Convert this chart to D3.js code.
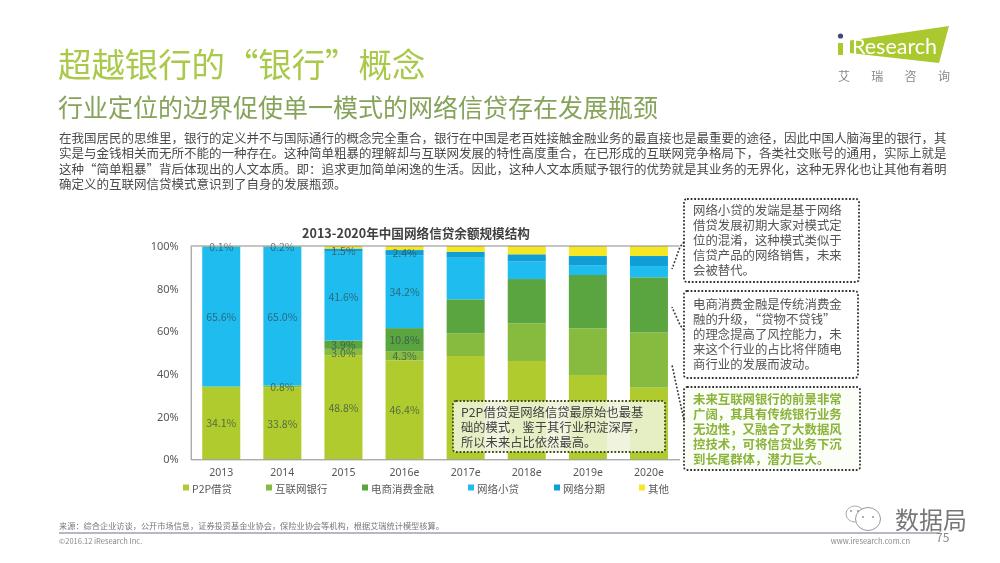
<!DOCTYPE html>
<html><head><meta charset="utf-8">
<script src="https://cdnjs.cloudflare.com/ajax/libs/d3/7.8.5/d3.min.js"></script>
<style>html,body{margin:0;background:#fff;overflow:hidden}svg{display:block;font-family:"Noto Sans CJK SC","Noto Sans",sans-serif;filter:blur(.3px)}</style>
</head><body><svg id="c" width="1000" height="563"></svg>
<script>
const categories=["2013","2014","2015","2016e","2017e","2018e","2019e","2020e"];
const seriesNames=["P2P借贷","互联网银行","电商消费金融","网络小贷","网络分期","其他"];
const p2p=[34.1,33.8,48.8,46.4,48.4,46.1,39.5,33.6];
const bank=[0,0.8,3.0,4.3,10.7,17.6,21.9,25.9];
const ecom=[0,0,3.9,10.8,15.9,20.8,25.0,25.8];
const micro=[65.6,65.0,41.6,34.2,19.5,8.2,4.4,5.3];
const install=[0.1,0.2,1.5,2.4,2.7,3.4,4.5,4.7];
const other=[0.2,0.2,1.2,1.9,2.8,3.9,4.7,4.7];
const labelledCategories=["2013","2014","2015","2016e"];
const yTicks=[0,20,40,60,80,100];
const colors=["#afcb2d","#86bb3f","#5aa53f","#1fbdef","#0f9fd6","#f5e726"];
const chartTitle="2013-2020年中国网络信贷余额规模结构";
const title="超越银行的“银行”概念";
const subtitle="行业定位的边界促使单一模式的网络信贷存在发展瓶颈";
const bodyLines=["在我国居民的思维里，银行的定义并不与国际通行的概念完全重合，银行在中国是老百姓接触金融业务的最直接也是最重要的途径，因此中国人脑海里的银行，其",
"实是与金钱相关而无所不能的一种存在。这种简单粗暴的理解却与互联网发展的特性高度重合，在已形成的互联网竞争格局下，各类社交账号的通用，实际上就是",
"这种“简单粗暴”背后体现出的人文本质。即：追求更加简单闲逸的生活。因此，这种人文本质赋予银行的优势就是其业务的无界化，这种无界化也让其他有着明",
"确定义的互联网信贷模式意识到了自身的发展瓶颈。"];
const note1=["网络小贷的发端是基于网络","借贷发展初期大家对模式定","位的混淆，这种模式类似于","信贷产品的网络销售，未来","会被替代。"];
const note2=["电商消费金融是传统消费金","融的升级，“贷物不贷钱”","的理念提高了风控能力，未","来这个行业的占比将伴随电","商行业的发展而波动。"];
const note3=["未来互联网银行的前景非常","广阔，其具有传统银行业务","无边性，又融合了大数据风","控技术，可将信贷业务下沉","到长尾群体，潜力巨大。"];
const note4=["P2P借贷是网络信贷最原始也最基","础的模式，鉴于其行业积淀深厚，","所以未来占比依然最高。"];
const logoChars=["艾","瑞","咨","询"];

const svg=d3.select("#c");
const txt=(x,y,s,size,fill,o={})=>svg.append("text").attr("x",x).attr("y",y).attr("font-size",size).attr("fill",fill)
  .attr("text-anchor",o.a||"start").attr("dominant-baseline","central").attr("font-weight",o.w||400).attr("letter-spacing",o.ls||null).text(s);
function multi(x,y,lines,lh,size,fill,w){
  const t=svg.append("text").attr("font-size",size).attr("fill",fill).attr("font-weight",w||400);
  lines.forEach((l,i)=>t.append("tspan").attr("x",x).attr("y",y+i*lh).attr("dominant-baseline","central").text(l));
}

txt(58,62,title,33.4,"#a9c94a");
txt(58,106,subtitle,25,"#86a35a");
multi(59,137,bodyLines,15.6,12.5,"#4a4a4a");

// chart
const x=d3.scaleBand().domain(categories).range([190.7,679.5]).paddingInner(0.378).paddingOuter(0.189);
const y=d3.scaleLinear().domain([0,100]).range([459.3,246]);
const rows=categories.map((c,i)=>({c,"P2P借贷":p2p[i],"互联网银行":bank[i],"电商消费金融":ecom[i],"网络小贷":micro[i],"网络分期":install[i],"其他":other[i]}));
const stacked=d3.stack().keys(seriesNames).offset(d3.stackOffsetExpand)(rows);
const g=svg.append("g");
stacked.forEach((s,si)=>{
  g.append("g").selectAll("rect").data(s).join("rect")
   .attr("x",d=>x(d.data.c)).attr("width",x.bandwidth())
   .attr("y",d=>y(d[1]*100)).attr("height",d=>y(d[0]*100)-y(d[1]*100)).attr("fill",colors[si]);
});
stacked.forEach((s,si)=>{
  if(seriesNames[si]==="其他")return;
  s.forEach(d=>{
    const v=d.data[seriesNames[si]];
    if(!labelledCategories.includes(d.data.c)||v<=0)return;
    svg.append("text").attr("x",x(d.data.c)+x.bandwidth()/2).attr("y",y((d[0]+d[1])*50))
      .attr("text-anchor","middle").attr("dominant-baseline","central").attr("font-size",10.5)
      .attr("fill","#33474f").attr("fill-opacity",.72).text(v.toFixed(1)+"%");
  });
});
const ya=d3.axisLeft(y).tickValues(yTicks).tickFormat(d=>d+"%").tickSize(0).tickPadding(12);
const yg=svg.append("g").attr("transform","translate(190.7,0)").call(ya);
yg.selectAll("text").attr("font-size",11).attr("fill","#595959").attr("font-family",'"Noto Sans","Noto Sans CJK SC",sans-serif');
yg.select(".domain").attr("stroke","#8a8a8a");
const xa=d3.axisBottom(x).tickSize(0).tickPadding(9);
const xg=svg.append("g").attr("transform","translate(0,459.3)").call(xa);
xg.selectAll("text").attr("font-size",10.5).attr("fill","#595959").attr("font-family",'"Noto Sans","Noto Sans CJK SC",sans-serif');
xg.select(".domain").attr("stroke","#8a8a8a");
svg.append("line").attr("x1",190.7).attr("x2",679.5).attr("y1",y(100)).attr("y2",y(100)).attr("stroke","#8a8a8a");
txt(416,232,chartTitle,12.6,"#404040",{a:"middle",w:700});
const legendX=d3.scaleOrdinal().domain(seriesNames).range([183,266,362,468,554,639]);
seriesNames.forEach((n,i)=>{
  svg.append("rect").attr("x",legendX(n)).attr("y",484.5).attr("width",6).attr("height",6).attr("fill",colors[i]);
  txt(legendX(n)+9,488,n,10.5,"#595959");
});

// notes
const dots="1.8 1.8";
function box(x0,y0,x1,y1,lines,fill,color,o={}){
  svg.append("rect").attr("x",x0).attr("y",y0).attr("width",x1-x0).attr("height",y1-y0).attr("rx",3)
    .attr("fill",fill).attr("fill-opacity",o.op||1).attr("stroke",o.stroke||"#333").attr("stroke-width",1.8).attr("stroke-dasharray",dots);
  multi(o.tx||x0+9,o.ty,lines,o.lh||15,o.fs||12.4,color,o.w);
}
box(684,199,859,282,note1,"#fff","#555",{ty:210});
box(684,291,858,378,note2,"#fff","#555",{ty:304});
box(684,387,860,470,note3,"#fbfdf7","#8ab43a",{ty:399,w:700});
box(453,401,665,452,note4,"#eef3da","#404040",{op:.88,ty:412,lh:15,tx:461,fs:12.3,stroke:"#3f4f15"});
[[[684,242],[680,247],[672,269]],[[684,330],[680,325],[672,307]],[[684,420],[680,402],[672,365]]].forEach(p=>{
  svg.append("path").attr("d",d3.line()(p)).attr("fill","none").attr("stroke","#333").attr("stroke-width",1.6).attr("stroke-dasharray",dots);
});

// logo
svg.append("path").attr("d","M850,40.5L949,26L939,63L850,53Z").attr("fill","#a9c92f");
svg.append("circle").attr("cx",840.5).attr("cy",36).attr("r",2.6).attr("fill","#3d4a80");
svg.append("rect").attr("x",838).attr("y",43).attr("width",5).attr("height",12).attr("fill","#a9c92f");
txt(852,46,"Research",21.5,"#fff").attr("font-family","Lato");
logoChars.forEach((c,i)=>txt(838+i*33.3,75,c,12,"#888"));

// footer
txt(59,525,"来源：综合企业访谈，公开市场信息，证券投资基金业协会，保险业协会等机构，根据艾瑞统计模型核算。",8.2,"#777");
svg.append("line").attr("x1",59).attr("x2",940).attr("y1",533).attr("y2",533).attr("stroke","#77718a").attr("stroke-width",1.2);
txt(59,540,"©2016.12 iResearch Inc.",7.5,"#888");
txt(910,540,"www.iresearch.com.cn",7.5,"#888",{a:"end"});
txt(936,536,"75",12,"#888");
// watermark
svg.append("ellipse").attr("cx",855).attr("cy",514).attr("rx",9).attr("ry",8).attr("fill","#fff").attr("stroke","#aaa");
svg.append("ellipse").attr("cx",868).attr("cy",519).attr("rx",12.5).attr("ry",11.5).attr("fill","#fff").attr("stroke","#999");
[[863,517],[873,517],[851,511],[858,511]].forEach(p=>svg.append("circle").attr("cx",p[0]).attr("cy",p[1]).attr("r",.9).attr("fill","#888"));
txt(895,518,"数据局",24,"#777");
</script></body></html>
